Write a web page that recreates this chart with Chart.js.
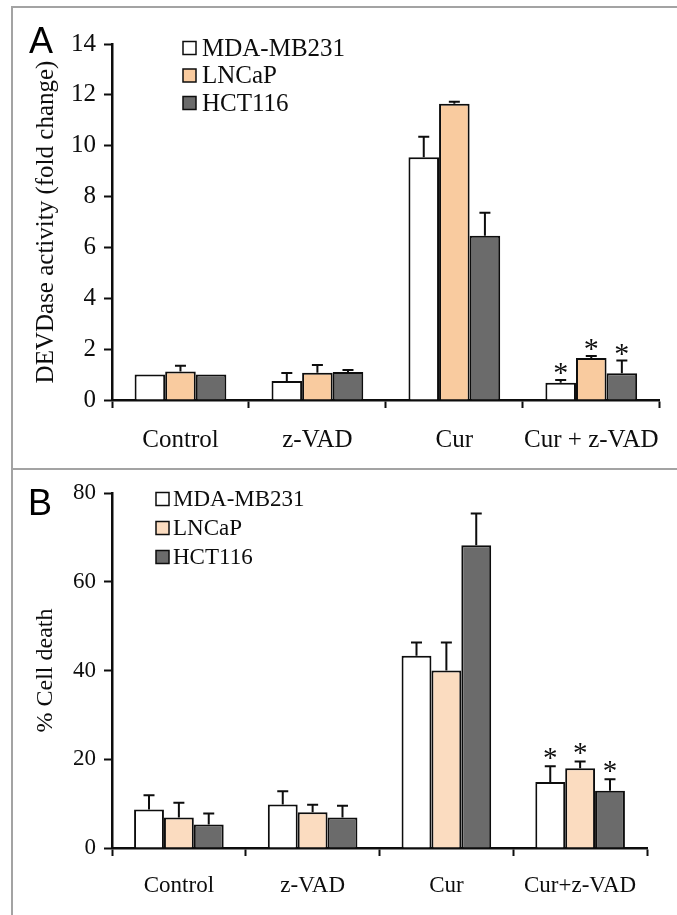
<!DOCTYPE html>
<html>
<head>
<meta charset="utf-8">
<script src="https://cdn.jsdelivr.net/npm/chart.js"></script>
<style>
  body { margin: 0; background: #fff; }
  #wrap { position: relative; width: 677px; height: 915px; overflow: hidden; background: #fff; }
  canvas { position: absolute; left: 0; }
  #chartA { top: 0; }
  #chartB { top: 469px; }
  .frame { position: absolute; background: #a3a3a3; }
</style>
</head>
<body>
<div id="wrap">
  <canvas id="chartA" width="677" height="469"></canvas>
  <canvas id="chartB" width="677" height="446"></canvas>
  <div class="frame" style="left:11px;top:6px;width:2px;height:909px"></div>
  <div class="frame" style="left:11px;top:6px;width:666px;height:2px"></div>
  <div class="frame" style="left:11px;top:468px;width:666px;height:2px"></div>
</div>
<script>
// panel A - caspase (DEVDase) activity
const categoriesA = ['Control', 'z-VAD', 'Cur', 'Cur + z-VAD'];
const yTicksA = [0, 2, 4, 6, 8, 10, 12, 14];
const devdMDA = [1.0, 0.75, 9.55, 0.68];
const devdMDAErr = [0, 0.31, 0.8, 0.11];
const devdLNCaP = [1.12, 1.07, 11.65, 1.65];
const devdLNCaPErr = [0.23, 0.31, 0.08, 0.08];
const devdHCT = [1.0, 1.1, 6.46, 1.05];
const devdHCTErr = [0, 0.08, 0.9, 0.5];
const starsA = [0, 0, 0, 1];

// panel B - cell death
const categoriesB = ['Control', 'z-VAD', 'Cur', 'Cur+z-VAD'];
const yTicksB = [0, 20, 40, 60, 80];
const deathMDA = [8.65, 9.8, 43.3, 14.9];
const deathMDAErr = [3.25, 3.0, 3.0, 3.5];
const deathLNCaP = [6.85, 8.05, 40.0, 18.0];
const deathLNCaPErr = [3.35, 1.7, 6.3, 1.5];
const deathHCT = [5.3, 6.9, 68.2, 12.9];
const deathHCTErr = [2.5, 2.6, 7.2, 2.6];
const starsB = [0, 0, 0, 1];

const cellLines = ['MDA-MB231', 'LNCaP', 'HCT116'];

const serif = "'Liberation Serif', 'Times New Roman', serif";
const ink = '#0d0d0d';

// error bars, asterisks, legend and panel letter
const figurePlugin = {
  id: 'figure',
  afterDatasetsDraw(chart, args, opts) {
    const ctx = chart.ctx;
    const yScale = chart.scales.y;
    ctx.save();
    chart.data.datasets.forEach((ds, i) => {
      const meta = chart.getDatasetMeta(i);
      meta.data.forEach((bar, j) => {
        const top = yScale.getPixelForValue(ds.data[j] + ds.errors[j]);
        if (ds.errors[j] > 0) {
          ctx.strokeStyle = ink;
          ctx.lineWidth = 2;
          ctx.beginPath();
          ctx.moveTo(bar.x, bar.y);
          ctx.lineTo(bar.x, top);
          ctx.moveTo(bar.x - 5.5, top);
          ctx.lineTo(bar.x + 5.5, top);
          ctx.stroke();
        }
        if (opts.stars[j]) {
          ctx.fillStyle = ink;
          ctx.font = opts.starSize + 'px ' + serif;
          ctx.textAlign = 'center';
          ctx.textBaseline = 'alphabetic';
          ctx.fillText('*', bar.x, top + opts.starLift);
        }
      });
    });

    // legend
    ctx.font = opts.fontSize + 'px ' + serif;
    ctx.textAlign = 'left';
    ctx.textBaseline = 'middle';
    chart.data.datasets.forEach((ds, i) => {
      const cy = opts.legendY + i * opts.legendGap;
      ctx.fillStyle = ds.backgroundColor;
      ctx.fillRect(opts.legendX, cy - 6.5, 13, 13);
      ctx.strokeStyle = ink;
      ctx.lineWidth = 1.5;
      ctx.strokeRect(opts.legendX, cy - 6.5, 13, 13);
      ctx.fillStyle = ink;
      ctx.fillText(ds.label, opts.legendX + opts.textGap, cy + 1);
    });

    // panel letter
    ctx.font = "36px 'Liberation Sans', Arial, sans-serif";
    ctx.textBaseline = 'alphabetic';
    ctx.fillStyle = '#000';
    ctx.fillText(opts.letter, opts.letterX, opts.letterY);
    ctx.restore();
  }
};

function makeChart(id, o) {
  const font = { family: serif, size: o.fontSize };
  return new Chart(document.getElementById(id), {
    type: 'bar',
    data: {
      labels: o.labels,
      datasets: [
        { label: cellLines[0], data: o.series[0], errors: o.errors[0], backgroundColor: '#ffffff' },
        { label: cellLines[1], data: o.series[1], errors: o.errors[1], backgroundColor: o.orange },
        { label: cellLines[2], data: o.series[2], errors: o.errors[2], backgroundColor: '#6b6b6b' }
      ].map(d => Object.assign(d, {
        borderColor: ink, borderWidth: 2, categoryPercentage: 0.67, barPercentage: 1.0
      }))
    },
    options: {
      responsive: false,
      animation: false,
      devicePixelRatio: 1,
      layout: { padding: o.padding },
      plugins: {
        legend: { display: false },
        tooltip: { enabled: false },
        figure: o.figure
      },
      scales: {
        x: {
          afterFit: s => { s.height = o.xHeight; },
          border: { color: ink, width: 2.5 },
          grid: { drawOnChartArea: false, offset: true, tickLength: 8, tickWidth: 2, tickColor: ink },
          ticks: { color: ink, font: font, padding: o.xPad, maxRotation: 0 }
        },
        y: {
          min: 0,
          max: o.yTicks[o.yTicks.length - 1],
          afterFit: s => { s.width = 112; },
          afterBuildTicks: s => { s.ticks = o.yTicks.map(v => ({ value: v })); },
          border: { color: ink, width: 2.5 },
          grid: { drawOnChartArea: false, tickLength: 8, tickWidth: 2, tickColor: ink },
          ticks: { color: ink, font: font, padding: 8 },
          title: { display: true, text: o.yTitle, color: ink, font: { family: serif, size: o.titleSize }, padding: { top: 31, bottom: 0 } }
        }
      }
    },
    plugins: [figurePlugin]
  });
}

makeChart('chartA', {
  labels: categoriesA,
  series: [devdMDA, devdLNCaP, devdHCT],
  errors: [devdMDAErr, devdLNCaPErr, devdHCTErr],
  orange: '#f9cb9f',
  yTicks: yTicksA,
  yTitle: 'DEVDase activity (fold change)',
  fontSize: 25,
  titleSize: 25,
  padding: { left: 0, top: 44, right: 12, bottom: 0 },
  xHeight: 69,
  xPad: 17,
  figure: { stars: starsA, starSize: 30, starLift: 2, fontSize: 25, legendX: 183, legendY: 48, legendGap: 27.5, textGap: 19, letter: 'A', letterX: 29, letterY: 53 }
});

makeChart('chartB', {
  labels: categoriesB,
  series: [deathMDA, deathLNCaP, deathHCT],
  errors: [deathMDAErr, deathLNCaPErr, deathHCTErr],
  orange: '#fbdcc0',
  yTicks: yTicksB,
  yTitle: '% Cell death',
  fontSize: 23,
  titleSize: 24,
  padding: { left: 0, top: 24, right: 30, bottom: 0 },
  xHeight: 67,
  xPad: 16,
  figure: { stars: starsB, starSize: 29, starLift: 1, fontSize: 23, legendX: 156, legendY: 30, legendGap: 29, textGap: 17, letter: 'B', letterX: 28, letterY: 46 }
});
</script>
</body>
</html>
